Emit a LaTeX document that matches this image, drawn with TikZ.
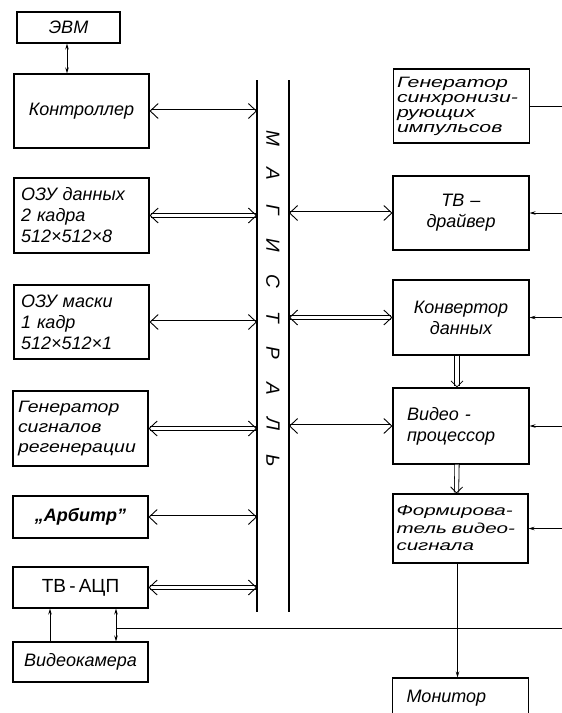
\documentclass[tikz,border=0pt]{standalone}
\usepackage{fontspec}
\setmainfont{Liberation Sans}
\newfontfamily\widefont[FakeStretch=1.18]{Liberation Sans Italic}
\newfontfamily\xwidefont[FakeStretch=1.42]{Liberation Sans Italic}
\usetikzlibrary{arrows.meta}

\tikzset{
  block/.style={draw, line width=1.1pt, inner xsep=7pt, inner ysep=0pt, text width=121pt, align=left,
    font=\fontsize{18}{21}\selectfont\itshape},
  rblock/.style={block, text width=122pt},
  bustip/.tip={Straight Barb[length=8pt,width=15pt,line width=0.9pt]},
  flowtip/.tip={Straight Barb[length=6pt,width=12pt,line width=0.8pt]},
  busarrow/.style={double, double distance=3pt, line width=0.9pt, bustip-bustip},
  flowarrow/.style={double, double distance=3.5pt, line width=0.8pt, -flowtip},
  sigarrow/.style={line width=0.7pt, -{Stealth[length=6pt,width=3.5pt]}},
  busline/.style={line width=1.5pt},
  busletter/.style={rotate=-90, font=\fontsize{19}{19}\selectfont\itshape}
}

\begin{document}
\begin{tikzpicture}[x=1pt,y=-1pt]
\clip (0,0) rectangle (562,713);
% left column
\node[block, text width=89pt, align=center, minimum height=31pt] (evm) at (68.5,27.5) {ЭВМ};
\node[block, minimum height=74pt, align=center] (ctrl) at (81.5,111) {Контроллер};
\node[block, minimum height=75pt] (ramd) at (81.5,215.5) {ОЗУ данных\\2 кадра\\512×512×8};
\node[block, minimum height=74pt] (ramm) at (81.5,322) {ОЗУ маски\\1 кадр\\512×512×1};
\node[block, minimum height=75pt, inner xsep=5pt, text width=125pt, font=\fontsize{16.5}{20}\selectfont\widefont] (regen) at (80.5,428.5) {Генератор\\сигналов\\регенерации};
\node[block, minimum height=42pt, align=center, font=\fontsize{18}{21}\selectfont\bfseries\itshape] (arb) at (80.5,517) {„Арбитр”};
\node[block, minimum height=41pt, align=center, font=\fontsize{19}{21}\selectfont] (adc) at (80.5,587.5) {ТВ\,-\,АЦП};
\node[block, minimum height=40pt, align=center] (cam) at (80.5,662) {Видеокамера};

% right column
\node[rblock, minimum height=74pt, inner xsep=3.5pt, text width=129pt, font=\fontsize{15}{15}\selectfont\xwidefont] (gsync) at (461.5,106) {Генератор\\синхронизи-\\рующих\\импульсов};
\node[rblock, minimum height=74pt, align=center] (drv) at (461,213) {ТВ –\\драйвер};
\node[rblock, minimum height=75pt, align=center] (conv) at (461,317.5) {Конвертор\\данных};
\node[rblock, minimum height=76pt] (vproc) at (461,426) {\hspace*{7pt}Видео -\\\hspace*{7pt}процессор};
\node[rblock, minimum height=69pt, inner xsep=3.5pt, text width=128pt, font=\fontsize{14.5}{17.5}\selectfont\xwidefont] (form) at (460.5,528.5) {Формирова-\\тель видео-\\сигнала};
\node[rblock, minimum height=40pt] (mon) at (460.5,698) {\hspace*{7pt}Монитор};

% bus
\coordinate (busLtop) at (257,80);
\coordinate (busLbot) at (257,612);
\coordinate (busRtop) at (289,80);
\coordinate (busRbot) at (289,612);
\coordinate (edgeR) at (562,0);
\draw[busline] (busLtop) -- (busLbot);
\draw[busline] (busRtop) -- (busRbot);
\foreach \ch [count=\i] in {М,А,Г,И,С,Т,Р,А,Л,Ь}
  \node[busletter] (let\i) at (273,{138+35.8*(\i-1)}) {\ch};

% bus connections
\foreach \blk in {ctrl,ramd,ramm,regen,arb,adc}
  \draw[busarrow] (\blk.east) -- (\blk.east -| busLtop);
\foreach \blk in {drv,conv,vproc}
  \draw[busarrow] (\blk.west -| busRtop) -- (\blk.west);

% data flow
\draw[flowarrow] ([xshift=-4pt]conv.south) -- ([xshift=-4pt]vproc.north);
\draw[flowarrow] ([xshift=-4pt]vproc.south) -- ([xshift=-4pt]form.north);
\draw[sigarrow] ([xshift=-3pt]form.south) -- ([xshift=-3pt]mon.north);

% signals
\draw[sigarrow, {Stealth[length=6pt,width=3.5pt]}-{Stealth[length=6pt,width=3.5pt]}] ([xshift=-1.5pt]evm.south) -- ([xshift=-1.5pt]evm.south |- ctrl.north);
\draw[line width=0.7pt] (gsync.east) -- (gsync.east -| edgeR);
\foreach \blk in {drv,conv,vproc,form}
  \draw[sigarrow] (\blk.east -| edgeR) -- (\blk.east);
\coordinate (sync) at (116,628);
\draw[line width=0.7pt] (sync) -- (sync -| edgeR);
\draw[sigarrow] (sync) -- (sync |- adc.south);
\draw[sigarrow] (sync) -- (sync |- cam.north);
\draw[sigarrow] ([xshift=-30.5pt]cam.north) -- ([xshift=-30.5pt]adc.south);
\end{tikzpicture}
\end{document}
